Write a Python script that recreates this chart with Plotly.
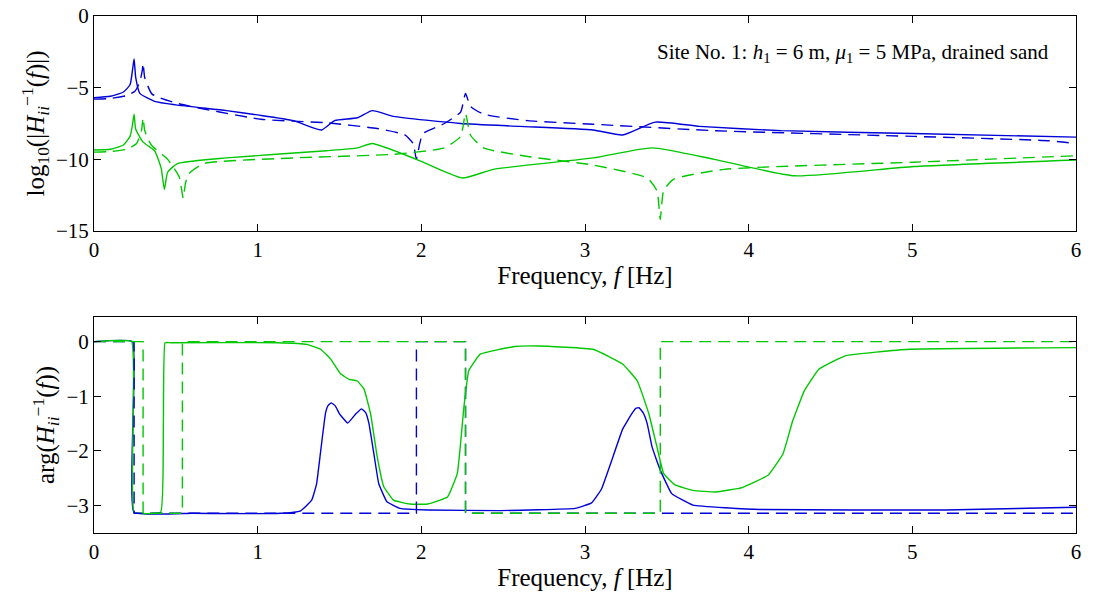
import plotly.graph_objects as go

# ---- magnitude panel: log10(|H_ii^-1(f)|) ----
f_mag_blue = [0.0, 0.1, 0.18, 0.22, 0.235, 0.245, 0.255, 0.28, 0.37, 0.5, 0.81, 1.0, 1.22, 1.39, 1.47, 1.61, 1.70, 1.83, 2.24, 2.6, 3.05, 3.23, 3.43, 3.7, 4.2, 5.0, 6.0]
mag_blue = [-5.7, -5.6, -5.3, -4.8, -3.8, -3.0, -4.3, -5.4, -5.95, -6.2, -6.6, -6.9, -7.3, -7.95, -7.3, -7.1, -6.6, -7.0, -7.5, -7.7, -7.95, -8.3, -7.4, -7.7, -8.0, -8.2, -8.45]

f_mag_blue_d = [0.0, 0.1, 0.2, 0.25, 0.28, 0.295, 0.30, 0.31, 0.355, 0.51, 1.02, 1.42, 1.73, 1.9, 1.95, 1.97, 1.99, 2.01, 2.14, 2.24, 2.27, 2.3, 2.38, 2.65, 3.05, 3.79, 5.01, 5.83, 6.0]
mag_blue_d = [-5.8, -5.75, -5.55, -5.25, -4.6, -3.8, -3.3, -4.3, -5.45, -6.1, -7.2, -7.45, -7.85, -8.3, -8.9, -10.0, -8.9, -8.2, -7.5, -6.7, -5.4, -6.3, -6.85, -7.3, -7.55, -8.0, -8.4, -8.7, -8.9]

f_mag_green = [0.0, 0.1, 0.18, 0.22, 0.235, 0.245, 0.255, 0.3, 0.37, 0.41, 0.43, 0.45, 0.51, 0.81, 1.42, 1.61, 1.70, 1.97, 2.25, 2.44, 3.05, 3.41, 3.79, 4.28, 5.01, 6.0]
mag_green = [-9.35, -9.3, -9.0, -8.4, -7.6, -6.85, -7.9, -8.8, -9.4, -10.6, -12.1, -10.9, -10.3, -9.9, -9.4, -9.2, -8.9, -10.0, -11.3, -10.7, -9.9, -9.2, -10.0, -11.15, -10.5, -10.05]

f_mag_green_d = [0.0, 0.1, 0.2, 0.26, 0.29, 0.30, 0.31, 0.35, 0.45, 0.52, 0.545, 0.56, 0.58, 0.67, 1.22, 1.83, 2.14, 2.24, 2.27, 2.3, 2.38, 2.65, 3.05, 3.38, 3.44, 3.46, 3.48, 3.54, 3.85, 5.01, 6.0]
mag_green_d = [-9.5, -9.45, -9.3, -8.9, -8.0, -7.1, -8.0, -9.0, -10.0, -11.2, -12.7, -11.6, -11.0, -10.3, -9.9, -9.65, -9.2, -8.4, -6.8, -8.3, -9.2, -9.8, -10.4, -11.3, -12.2, -14.2, -12.2, -11.4, -10.7, -10.2, -9.75]

# ---- phase panel: arg(H_ii^-1(f)) ----
f_ph_blue = [0.0, 0.234, 0.244, 0.6, 1.14, 1.26, 1.33, 1.36, 1.385, 1.415, 1.43, 1.45, 1.475, 1.50, 1.55, 1.60, 1.635, 1.66, 1.68, 1.71, 1.74, 1.79, 1.87, 2.04, 2.48, 2.94, 3.04, 3.10, 3.16, 3.23, 3.29, 3.31, 3.33, 3.355, 3.38, 3.41, 3.46, 3.53, 3.66, 4.07, 5.2, 6.0]
ph_blue = [0.0, 0.0, -3.12, -3.14, -3.14, -3.1, -2.9, -2.6, -2.0, -1.3, -1.17, -1.12, -1.18, -1.32, -1.49, -1.32, -1.23, -1.3, -1.5, -2.05, -2.6, -2.93, -3.05, -3.08, -3.09, -3.05, -2.95, -2.7, -2.2, -1.6, -1.3, -1.22, -1.21, -1.3, -1.5, -1.93, -2.35, -2.78, -2.99, -3.07, -3.08, -3.03]

f_ph_green = [0.0, 0.23, 0.244, 0.407, 0.424, 0.434, 0.47, 1.12, 1.30, 1.385, 1.446, 1.507, 1.558, 1.609, 1.65, 1.69, 1.73, 1.77, 1.83, 1.93, 2.04, 2.16, 2.22, 2.26, 2.29, 2.36, 2.57, 2.71, 3.05, 3.23, 3.32, 3.39, 3.44, 3.48, 3.55, 3.66, 3.80, 3.96, 4.12, 4.21, 4.27, 4.34, 4.43, 4.59, 4.98, 6.0]
ph_green = [0.0, 0.0, -3.12, -3.12, -1.5, -0.02, -0.02, -0.02, -0.05, -0.14, -0.32, -0.59, -0.69, -0.72, -0.87, -1.32, -2.1, -2.65, -2.9, -2.97, -2.97, -2.84, -2.41, -1.2, -0.53, -0.23, -0.09, -0.08, -0.14, -0.41, -0.72, -1.32, -1.93, -2.41, -2.62, -2.72, -2.75, -2.67, -2.44, -2.05, -1.44, -0.9, -0.5, -0.26, -0.14, -0.11]

f_ph_blue_d = [0.0, 0.245, 0.245, 1.97, 1.97, 2.27, 2.27, 6.0]
ph_blue_d = [0.0, 0.0, -3.14, -3.14, 0.0, 0.0, -3.14, -3.14]

f_ph_green_d = [0.0, 0.30, 0.30, 0.54, 0.54, 2.27, 2.27, 3.46, 3.46, 6.0]
ph_green_d = [0.0, 0.0, -3.14, -3.14, 0.0, 0.0, -3.14, -3.14, 0.0, 0.0]

BLUE = "#0000d8"
GREEN = "#00c800"
FONT = "Liberation Serif"

fig = go.Figure()


def add(x, y, color, dash, panel, smooth):
    line = dict(color=color, width=1.4, dash="12px,7px" if dash else "solid")
    if smooth:
        line.update(shape="spline", smoothing=smooth)
    fig.add_trace(go.Scatter(x=x, y=y, mode="lines",
                             xaxis="x" if panel == 1 else "x2", yaxis="y" if panel == 1 else "y2", line=line))


add(f_mag_blue, mag_blue, BLUE, False, 1, 0.5)
add(f_mag_blue_d, mag_blue_d, BLUE, True, 1, 0.5)
add(f_mag_green, mag_green, GREEN, False, 1, 0.5)
add(f_mag_green_d, mag_green_d, GREEN, True, 1, 0.5)

add(f_ph_blue, ph_blue, BLUE, False, 2, 0.3)
add(f_ph_green, ph_green, GREEN, False, 2, 0.3)
add(f_ph_blue_d, ph_blue_d, BLUE, True, 2, 0)
add(f_ph_green_d, ph_green_d, GREEN, True, 2, 0)

axis_style = dict(showline=True, linecolor="black", linewidth=1, mirror="ticks", ticks="inside",
                  ticklen=7, tickcolor="black", showgrid=False, zeroline=False, automargin=False,
                  ticklabeloverflow="allow", tickfont=dict(size=21, color="black"))

fig.update_layout(
    width=1093, height=602, showlegend=False,
    paper_bgcolor="white", plot_bgcolor="white",
    margin=dict(l=86, r=25, t=0, b=0),
    font=dict(family=FONT, size=21, color="black"),
    xaxis=dict(domain=[0, 1], anchor="y", range=[0, 6], dtick=1, **axis_style,
               title=dict(text="Frequency, <i>f</i> [Hz]", standoff=2)),
    yaxis=dict(domain=[379 / 602, 594 / 602], anchor="x", range=[-15, 0.001],
               tickvals=[-15, -10, -5, 0], ticktext=["−15", "−10", "−5", "0"], **axis_style,
               title=dict(text="log<sub>10</sub>(|<i>H</i><sub><i>ii</i></sub><sup>−1</sup>(<i>f</i>)|)", standoff=4)),
    xaxis2=dict(domain=[0, 1], anchor="y2", range=[0, 6], dtick=1, **axis_style,
                title=dict(text="Frequency, <i>f</i> [Hz]", standoff=2)),
    yaxis2=dict(domain=[77 / 602, 293 / 602], anchor="x2", range=[-3.5, 0.45], dtick=1, **axis_style,
                title=dict(text="arg(<i>H</i><sub><i>ii</i></sub><sup>−1</sup>(<i>f</i>))", standoff=4)),
    annotations=[dict(xref="x", yref="y", x=5.85, y=-2.6, xanchor="right", yanchor="middle", showarrow=False,
                      text="Site No. 1: <i>h</i><sub>1</sub> = 6 m, <i>μ</i><sub>1</sub> = 5 MPa, drained sand",
                      font=dict(size=21, family=FONT))],
)

fig.write_html("out.html")
